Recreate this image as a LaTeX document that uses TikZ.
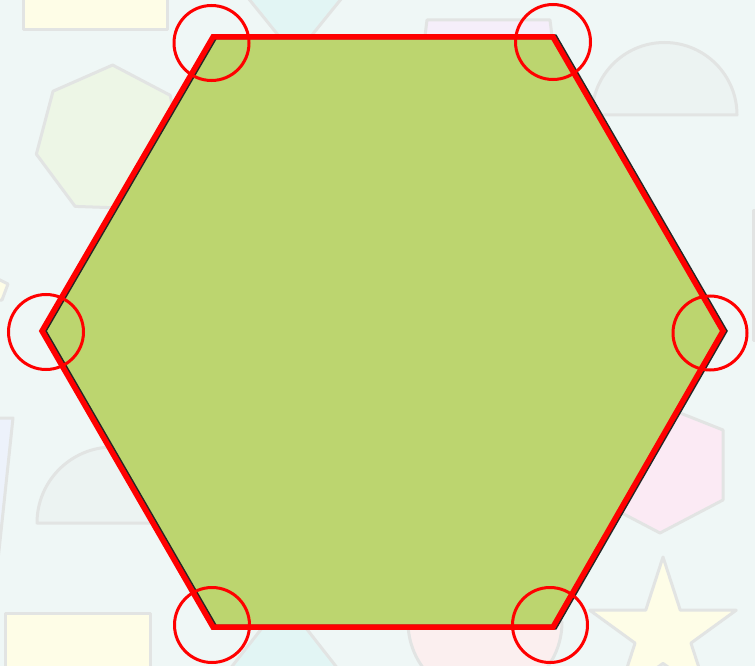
\documentclass[tikz,border=0pt]{standalone}
\usetikzlibrary{calc}
\definecolor{bgc}{HTML}{EFF7F6}
\definecolor{bgline}{HTML}{E2E4E3}
\definecolor{pyellow}{HTML}{FEFDE7}
\definecolor{pcyan}{HTML}{E2F5F4}
\definecolor{pgreen}{HTML}{EDF6E6}
\definecolor{ppink}{HTML}{FBEAF4}
\definecolor{plav}{HTML}{F5EEFA}
\definecolor{pblue}{HTML}{EDF2FB}
\definecolor{pgray}{HTML}{ECF3F2}
\definecolor{ppinkb}{HTML}{FBEFEF}
\definecolor{hexfill}{HTML}{BCD56F}
\definecolor{hexred}{HTML}{FF0000}
\tikzset{
  bgshape/.style={draw=bgline, line width=3pt, line join=round},
  hexshadow/.style={draw=black!85, line width=5pt, line join=miter},
  hexmain/.style={draw=hexred, line width=5.5pt, line join=miter},
  marker/.style={draw=hexred, line width=3pt}
}
\begin{document}
\begin{tikzpicture}[x=1pt,y=-1pt]
\useasboundingbox (0,0) rectangle (755,666);
\fill[bgc] (0,0) rectangle (755,666);
% background shapes
\draw[bgshape, fill=pyellow] (23,-10) rectangle (167,30);
\draw[bgshape, fill=pcyan] (240,-12) -- (350,-12) -- (295,56) -- cycle;
\draw[bgshape, fill=plav] (422,60) -- (427,20) -- (550,20) -- (555,60) -- cycle;
\draw[bgshape, fill=pgreen] ($(110,140)+(-88:75)$)
  \foreach \k in {1,...,6} { -- ($(110,140)+({-88+\k*360/7}:75)$) } -- cycle;
\draw[bgshape, fill=pgray] (592,115) arc[start angle=180, end angle=360, radius=72.5] -- cycle;
\draw[bgshape, fill=pgray] (753,210) rectangle (775,340);
\draw[bgshape, fill=pyellow] (-20,270) -- (8,284) -- (2,300) -- (-20,300) -- cycle;
\draw[bgshape, fill=pblue] (-30,418) -- (13,418) -- (-2,560) -- (-40,560) -- cycle;
\draw[bgshape, fill=pgray] (37,523) arc[start angle=180, end angle=360, radius=76] -- cycle;
\draw[bgshape, fill=pyellow] (5,613) rectangle (150,690);
\draw[bgshape, fill=pcyan] (284,600) -- (360,697) -- (208,697) -- cycle;
\draw[bgshape, fill=ppinkb] (408,622) arc[start angle=180, end angle=0, radius=77] -- cycle;
\draw[bgshape, fill=ppink] (660,405) -- (723,430) -- (723,500) -- (660,533) -- (597,500) -- (597,430) -- cycle;
\draw[bgshape, fill=pyellow] ($(663,634)+(-90:77)$)
  \foreach \k in {0,...,4} { -- ($(663,634)+({-90+36+\k*72}:29.4)$) -- ($(663,634)+({-90+72+\k*72}:77)$) } -- cycle;
% main hexagon
\coordinate (tl) at (213,37);
\coordinate (tr) at (553,37);
\coordinate (r) at (723,331);
\coordinate (br) at (553,627);
\coordinate (bl) at (213,627);
\coordinate (l) at (42,331);
\fill[hexfill] (tl) -- (tr) -- (r) -- (br) -- (bl) -- (l) -- cycle;
\draw[hexshadow] ($(tl)+(2,0)$) -- ($(tr)+(2,0)$) -- ($(r)+(2,0)$) -- ($(br)+(2,0)$) -- ($(bl)+(2,0)$) -- ($(l)+(2,0)$) -- cycle;
\draw[hexmain] (tl) -- (tr) -- (r) -- (br) -- (bl) -- (l) -- cycle;
% vertex markers
\draw[marker] (211.5,43) circle[radius=37.5];
\draw[marker] (553,42) circle[radius=37.5];
\draw[marker] (710,333) circle[radius=37];
\draw[marker] (46,332) circle[radius=37.5];
\draw[marker] (212,625) circle[radius=37.5];
\draw[marker] (550,625) circle[radius=37.5];
\end{tikzpicture}
\end{document}
